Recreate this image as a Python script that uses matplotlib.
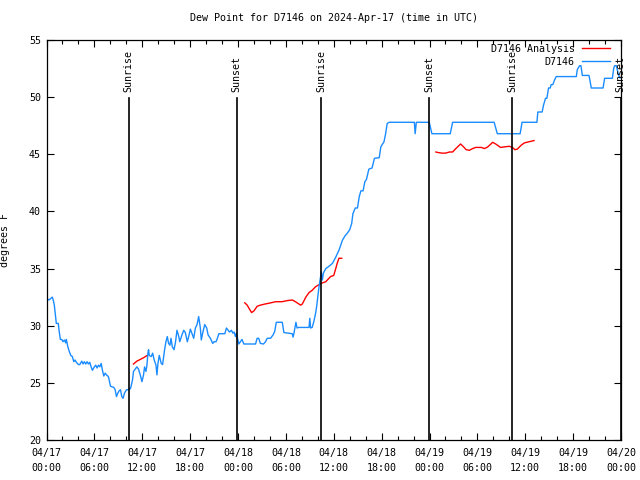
import matplotlib
matplotlib.use("Agg")
import matplotlib.pyplot as plt
import matplotlib.dates as mdates
import matplotlib.transforms as mtransforms
import numpy as np
import pandas as pd

plt.rcParams['font.family'] = ['DejaVu Sans Mono']
plt.rcParams['font.size'] = 7.2

# observed dew point (hours since 04/17 00:00 UTC, degrees F)
obs_hours = [0.0, 0.31, 0.52, 0.73, 0.86, 0.98, 1.07, 1.23, 1.48, 1.57, 1.74, 1.91, 2.07, 2.24,
             2.41, 2.49, 2.66, 2.83, 3.04, 3.24, 3.42, 3.58, 3.74, 4.0, 4.17, 4.42, 4.59, 4.75,
             4.92, 5.09, 5.25, 5.42, 5.59, 5.75, 6.0, 6.17, 6.34, 6.51, 6.68, 6.85, 7.01, 7.18,
             7.35, 7.51, 7.76, 8.02, 8.44, 8.6, 8.77, 8.94, 9.1, 9.27, 9.44, 9.6, 9.77, 10.03,
             10.2, 10.53, 10.78, 10.9, 11.33, 11.53, 11.75, 11.96, 12.16, 12.29, 12.46, 12.59,
             12.71, 12.79, 12.88, 13.13, 13.3, 13.5, 13.72, 13.84, 13.97, 14.13, 14.38, 14.55,
             14.8, 14.97, 15.14, 15.3, 15.47, 15.6, 15.77, 15.98, 16.14, 16.23, 16.35, 16.56,
             16.7, 16.98, 17.2, 17.4, 17.65, 17.82, 18.03, 18.24, 18.45, 18.66, 18.87, 19.07,
             19.28, 19.4, 19.57, 19.83, 20.08, 20.25, 20.54, 20.83, 21.0, 21.25, 21.42, 21.6,
             22.35, 22.55, 22.76, 22.93, 23.18, 23.35, 23.51, 23.68, 23.8, 24.1, 24.5, 24.73,
             26.2, 26.4, 26.6, 26.8, 27.2, 27.45, 27.66, 28.08, 28.4, 28.6, 28.8, 29.55, 29.75,
             30.8, 30.9, 31.0, 31.26, 31.4, 31.6, 32.9, 33.0, 33.1, 33.3, 33.5, 33.73, 33.86,
             34.0, 34.15, 34.36, 34.44, 34.57, 34.7, 35.0, 35.4, 35.83, 36.25, 36.65, 36.9,
             37.1, 37.4, 37.7, 38.0, 38.25, 38.4, 38.7, 38.97, 39.2, 39.4, 39.67, 39.9, 40.1,
             40.4, 40.8, 41.1, 41.7, 41.9, 42.3, 42.5, 42.7, 42.95, 46.1, 46.2, 46.35, 47.97,
             48.3, 50.6, 50.9, 56.1, 56.5, 59.36, 59.6, 61.46, 61.58, 62.12, 62.29, 62.54,
             62.71, 62.92, 63.13, 63.25, 63.46, 63.67, 63.88, 66.4, 66.52, 66.81, 66.98, 67.15,
             67.99, 68.15, 68.28, 69.75, 69.95, 70.92, 71.08, 71.2, 71.42, 71.63, 71.83, 72.0]
obs_vals = [32.4, 32.25, 32.37, 32.5, 32.2, 31.8, 31.2, 30.2, 30.2, 29.6, 28.8, 28.8, 28.6, 28.75,
            28.5, 28.8, 28.2, 27.8, 27.4, 27.3, 26.85, 27.0, 26.8, 26.6, 26.6, 26.9, 26.65, 26.85,
            26.65, 26.85, 26.65, 26.8, 26.4, 26.1, 26.4, 26.55, 26.3, 26.55, 26.4, 26.7, 26.1, 25.6,
            25.85, 25.7, 25.55, 24.7, 24.6, 24.4, 23.8, 24.1, 24.3, 24.4, 23.8, 23.65, 24.1, 24.4,
            24.4, 24.5, 25.25, 26.0, 26.4, 26.2, 25.7, 25.1, 25.7, 26.4, 26.0, 26.55,
            27.6, 27.9, 27.4, 27.3, 27.6, 27.0, 26.55, 25.7, 26.7, 27.4, 26.7, 26.6,
            27.9, 28.6, 29.05, 28.45, 28.3, 28.9, 28.15, 27.9, 28.45, 28.9, 29.6, 29.1,
            28.6, 29.2, 29.6, 29.4, 28.6, 29.05, 29.7, 29.3, 28.9, 29.8, 30.1, 30.8,
            29.8, 28.75, 29.35, 30.1, 29.8, 29.2, 28.9, 28.45, 28.6, 28.6, 28.9, 29.3,
            29.3, 29.8, 29.6, 29.45, 29.6, 29.35, 29.45, 29.05, 29.35, 28.4, 28.8, 28.4,
            28.4, 28.9, 28.9, 28.45, 28.4, 28.6, 28.9, 28.9, 29.2, 29.5, 30.3, 30.3, 29.4,
            29.3, 29.0, 29.3, 30.3, 29.8, 29.85, 29.85, 30.65, 29.8, 29.85, 30.35, 31.1, 31.7,
            32.5, 33.4, 34.3, 34.7, 34.0, 34.6, 35.0, 35.2, 35.45, 36.0, 36.6, 37.1,
            37.5, 37.85, 38.1, 38.4, 38.95, 39.8, 40.3, 40.3, 41.3, 41.8, 41.8, 42.6, 42.8,
            43.7, 43.8, 44.65, 44.7, 45.65, 46.1, 46.8, 47.7, 47.8, 47.8, 46.8, 47.8, 47.8,
            46.8, 46.8, 47.8, 47.8, 46.8, 46.8, 47.8, 47.8, 48.7, 48.7, 49.3, 49.9,
            49.9, 50.8, 50.8, 51.1, 51.1, 51.5, 51.8, 51.8, 52.4, 52.75, 52.75, 51.9,
            51.9, 51.3, 50.8, 50.8, 51.65, 51.65, 52.5, 52.75, 52.75, 52.1, 51.7, 51.7]

# analysis dew point, nan marks the gaps
ana_hours = [10.9, 11.33, 11.75, 12.16, 12.63, 12.7,
             24.85, 25.15, 25.7, 26.0, 26.4, 26.8, 27.4, 28.1, 28.7, 29.5, 30.2, 30.8, 31.2,
             31.85, 32.06, 32.5, 32.9, 33.3, 33.7, 34.4, 35.0, 35.6, 36.0, 36.25, 36.45, 36.65,
             37.0, 37.1,
             48.8, 49.1, 49.6, 50.0, 50.5, 50.9, 51.3, 51.9, 52.2, 52.6, 53.0, 53.4, 53.8, 54.5,
             54.9, 55.3, 55.7, 55.9, 56.3, 56.9, 57.4, 58.0, 58.4, 58.7, 59.0, 59.5, 59.9, 60.5,
             61.1]
ana_vals = [26.65, 26.9, 27.05, 27.2, 27.4, np.nan,
            32.0, 31.8, 31.15, 31.3, 31.7, 31.8, 31.9, 32.0, 32.1, 32.1, 32.2, 32.25, 32.1,
            31.8, 31.9, 32.5, 32.9, 33.1, 33.4, 33.7, 33.85, 34.3, 34.4, 35.0, 35.5, 35.9,
            35.9, np.nan,
            45.2, 45.15, 45.1, 45.1, 45.2, 45.2, 45.5, 45.9, 45.7, 45.4, 45.35, 45.5, 45.6, 45.6,
            45.5, 45.65, 45.9, 46.05, 45.9, 45.6, 45.65, 45.7, 45.6, 45.4, 45.45, 45.8, 46.0, 46.1,
            46.2]

sun_hours = [10.28, 23.84, 34.42, 47.96, 58.35, 71.98]
sun_labels = ['Sunrise', 'Sunset', 'Sunrise', 'Sunset', 'Sunrise', 'Sunset']

start = pd.Timestamp('2024-04-17 00:00')


def to_time(hours):
    return start + pd.to_timedelta(np.array(hours), unit='h')


fig = plt.figure(figsize=(6.4, 4.8), dpi=100)
ax = fig.add_axes([46.5 / 640, 40 / 480, 574.5 / 640, 400 / 480])

ax.plot(to_time(ana_hours), ana_vals, color='#ff0000', lw=1.0, label='D7146 Analysis')
ax.plot(to_time(obs_hours), obs_vals, color='#1a8cff', lw=1.0, label='D7146')

trans = mtransforms.blended_transform_factory(ax.transData, ax.transAxes)
for h, lab in zip(sun_hours, sun_labels):
    t = mdates.date2num(to_time([h])[0])
    ax.axvline(t, ymin=0, ymax=0.855, color='black', lw=1.2)
    ax.text(t, 0.87, lab, transform=trans, rotation=90, ha='center', va='bottom',
            clip_on=False)

ax.set_xlim(start, start + pd.Timedelta(hours=72))
ax.set_ylim(20, 55)
ax.set_yticks(range(20, 56, 5))

ax.xaxis.set_major_locator(mdates.HourLocator(byhour=range(0, 24, 6)))
ax.xaxis.set_minor_locator(mdates.HourLocator(byhour=range(0, 24, 2)))
ax.xaxis.set_major_formatter(mdates.DateFormatter('%m/%d\n%H:%M'))

ax.tick_params(which='both', direction='in', top=True, right=True, width=0.8)
ax.tick_params(which='major', length=5)
ax.tick_params(axis='x', which='major', pad=6)
ax.tick_params(axis='y', which='major', pad=4)
ax.tick_params(which='minor', length=3)
for lbl in ax.get_xticklabels():
    lbl.set_linespacing(1.6)
for s in ax.spines.values():
    s.set_linewidth(0.9)

ax.set_title('Dew Point for D7146 on 2024-Apr-17 (time in UTC)', fontsize=7.2, pad=14)
ax.set_ylabel('degrees F')
ax.yaxis.set_label_coords(-0.063, 0.5)

ax.legend(loc='upper right', bbox_to_anchor=(0.98, 0.99), frameon=False,
          markerfirst=False, handlelength=2.8, handletextpad=0.7,
          labelspacing=0.3, borderaxespad=0, borderpad=0)

fig.savefig('out.png', dpi=100)
